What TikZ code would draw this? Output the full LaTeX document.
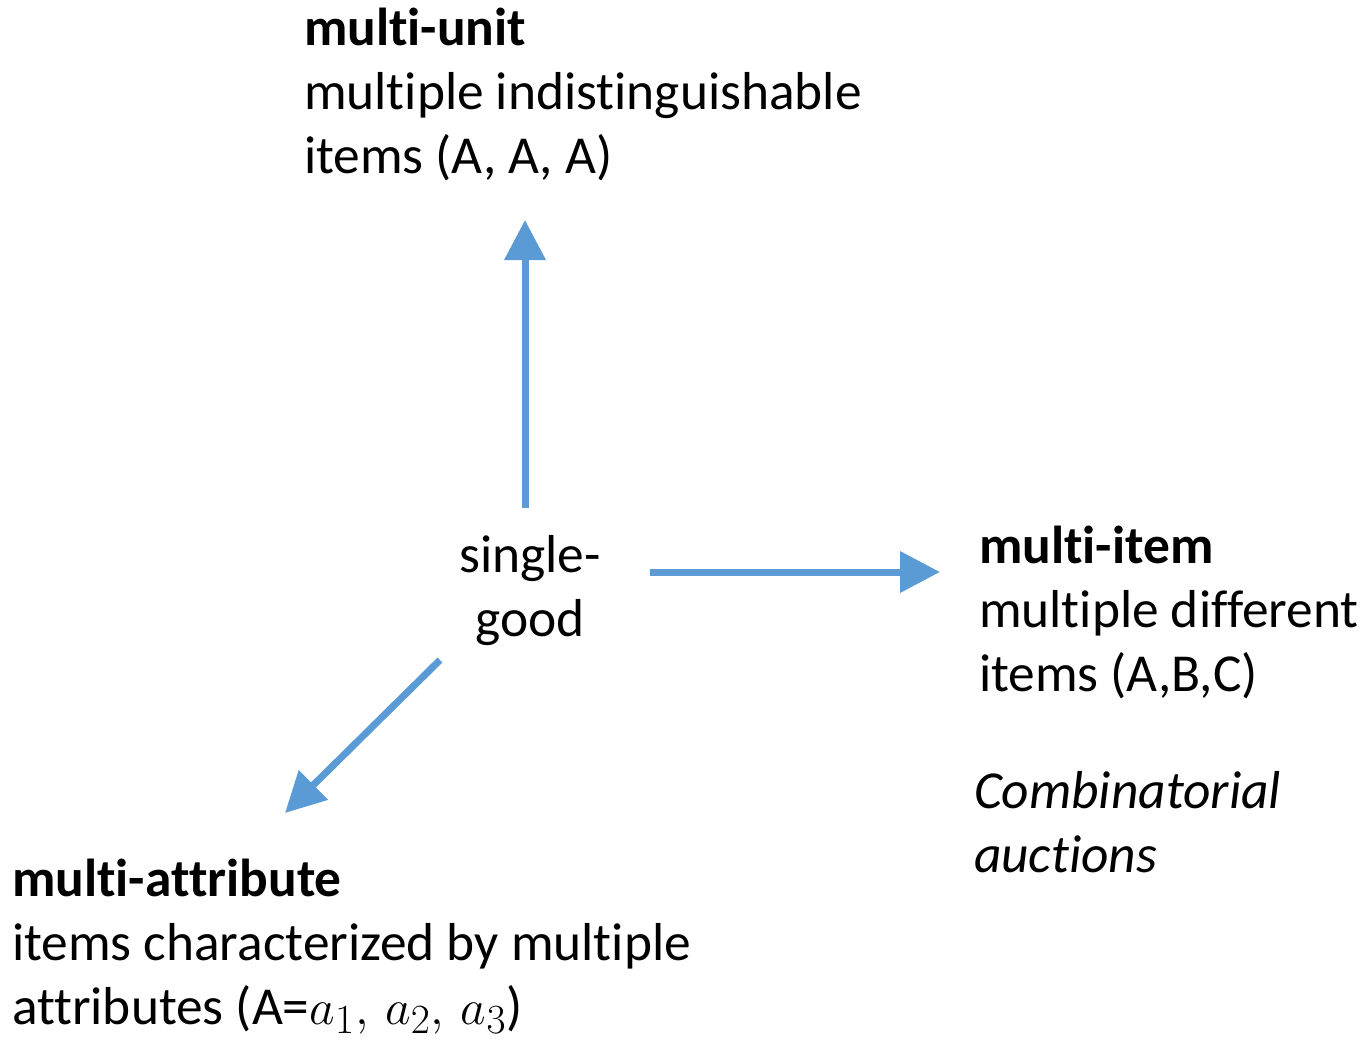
\documentclass[tikz,border=0pt]{standalone}
\usepackage{fontspec}
\setmainfont[Ligatures=NoCommon]{Carlito}
\usetikzlibrary{arrows.meta}
\definecolor{arrowblue}{HTML}{5B9BD5}
\newcommand{\bigmath}[1]{{\fontsize{28.5}{32}\selectfont$#1$}}
\tikzset{
  lbl/.style={inner sep=0pt, outer sep=0pt, align=left, anchor=base west,
    font=\fontsize{26.7}{32}\selectfont},
  arr/.style={draw=arrowblue, line width=3.5pt,
    -{Triangle[width=20pt,length=20pt]}, fill=arrowblue},
}
\begin{document}
\begin{tikzpicture}[x=0.5pt, y=-0.5pt]
  \useasboundingbox (0,0) rectangle (1364,1040);

  % labels (anchored at the baseline of their last line)
  \node[lbl] (unit) at (304,173) {\textbf{multi-unit}\\multiple indistinguishable\\items (A, A, A)};
  \node[lbl, align=center, anchor=base] (single) at (530,636) {single-\\good};
  \node[lbl] (item) at (979,691) {\textbf{multi-item}\\multiple different\\items (A,B,C)};
  \node[lbl] (comb) at (974,872) {\textit{Combinatorial}\\\textit{auctions}};
  \node[lbl] (attr) at (12,1024) {\textbf{multi-attribute}\\items characterized by multiple\\attributes (A=\bigmath{a_1,\, a_2,\, a_3})};

  % arrow end points
  \coordinate (upS) at (525,508);
  \coordinate (upE) at (525,220);
  \coordinate (rtS) at (650,572);
  \coordinate (rtE) at (940,572);
  \coordinate (dgS) at (440,660);
  \coordinate (dgE) at (285,813);

  % arrows out of the single-good case
  \draw[arr] (upS) -- (upE);
  \draw[arr] (rtS) -- (rtE);
  \draw[arr] (dgS) -- (dgE);
\end{tikzpicture}
\end{document}
